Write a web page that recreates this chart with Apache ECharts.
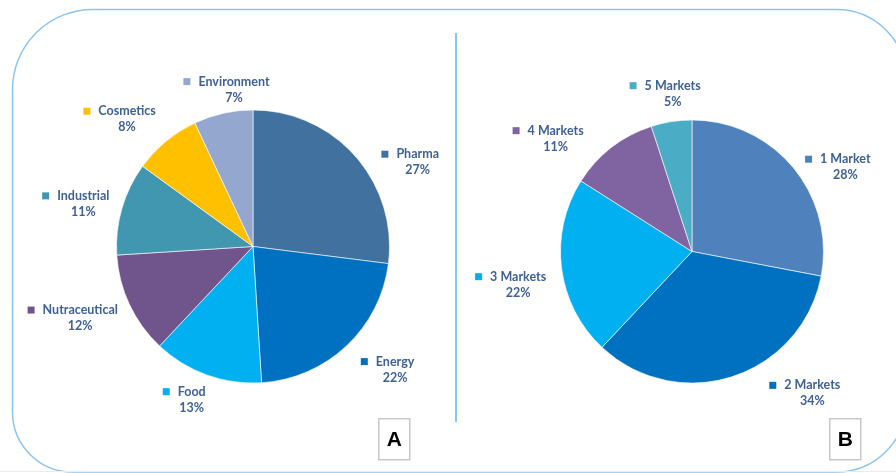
<!DOCTYPE html>
<html>
<head>
<meta charset="utf-8">
<script src="https://cdn.jsdelivr.net/npm/echarts@6/dist/echarts.min.js"></script>
<style>html,body{margin:0;padding:0;background:#fff}#c{width:896px;height:473px}</style>
</head>
<body>
<div id="c"></div>
<script>
// ---- data ----
const catsA = ['Pharma', 'Energy', 'Food', 'Nutraceutical', 'Industrial', 'Cosmetics', 'Environment'];
const valsA = [27, 22, 13, 12, 11, 8, 7];
const catsB = ['1 Market', '2 Markets', '3 Markets', '4 Markets', '5 Markets'];
const valsB = [28, 34, 22, 11, 5];
const panelLabels = ['A', 'B'];

// ---- style ----
const colorsA = ['#41719E', '#0070C0', '#00B0F0', '#70548C', '#4197AF', '#FFC000', '#94A7CE'];
const colorsB = ['#4F81BD', '#0070C0', '#00B0F0', '#8064A2', '#4BACC6'];
// label placement: [angle nudge from slice mid-angle (deg), distance from centre (px)]
const placeA = [[14.3, 185], [-5.9, 188], [2.0, 165], [2.7, 187], [-2.1, 175], [-5.1, 179], [5.7, 158]];
const placeB = [[10.8, 175], [-22.3, 186], [-3.6, 177], [-12.6, 177], [2.0, 159]];
const textColor = '#3F6196';
const FONT = 'Lato';

function makeSeries(cats, vals, colors, center, radius, place) {
  const total = vals.reduce((a, b) => a + b, 0);
  const mids = [];
  let acc = 0;
  vals.forEach(v => { mids.push((acc + v / 2) / total * 360); acc += v; });
  const rich = {
    n: { fontFamily: FONT, fontWeight: 'bold', fontSize: 12.5, color: textColor, lineHeight: 16, padding: [0, 0, 0, 8] },
    p: { fontFamily: FONT, fontWeight: 'bold', fontSize: 12.5, color: textColor, lineHeight: 16, padding: [0, 0, 0, 15] }
  };
  colors.forEach((c, i) => {
    rich['m' + i] = { width: 7, height: 7, backgroundColor: c, verticalAlign: 'middle' };
  });
  return {
    type: 'pie',
    center: center,
    radius: radius,
    startAngle: 90,
    clockwise: true,
    silent: true,
    animation: false,
    itemStyle: { borderColor: '#ffffff', borderWidth: 0.6 },
    data: cats.map((n, i) => ({ name: n, value: vals[i], itemStyle: { color: colors[i] } })),
    label: {
      show: true,
      position: 'outside',
      alignTo: 'none',
      overflow: 'none',
      width: 200,
      formatter: p => '{m' + p.dataIndex + '|}{n|' + p.name + '}\n{p|' + p.value + '%}',
      rich: rich
    },
    labelLine: { show: false },
    labelLayout: function (p) {
      const i = p.dataIndex;
      const a = (mids[i] + place[i][0]) * Math.PI / 180;
      const d = place[i][1];
      return {
        x: center[0] + d * Math.sin(a) - 7.5,
        y: center[1] - d * Math.cos(a),
        align: 'center',
        verticalAlign: 'middle'
      };
    }
  };
}

const chart = echarts.init(document.getElementById('c'), null, { renderer: 'canvas' });
chart.setOption({
  backgroundColor: '#ffffff',
  animation: false,
  series: [
    makeSeries(catsA, valsA, colorsA, [253, 246.5], 136.5, placeA),
    makeSeries(catsB, valsB, colorsB, [692, 251.5], 131.5, placeB)
  ],
  graphic: [
    { type: 'rect', z: -10, silent: true, shape: { x: 12.5, y: 9.5, width: 894, height: 462.5, r: [80, 70, 70, 60] },
      style: { fill: 'none', stroke: '#8CC4F0', lineWidth: 1.5 } },
    { type: 'line', z: -10, silent: true, shape: { x1: 0, y1: 471.5, x2: 896, y2: 471.5 },
      style: { stroke: '#ECECEC', lineWidth: 1 } },
    { type: 'line', z: -5, silent: true, shape: { x1: 456, y1: 33, x2: 456, y2: 422 },
      style: { stroke: '#8EC5F0', lineWidth: 2 } },
    { type: 'group', left: 378, top: 418, children: [
      { type: 'rect', shape: { x: 0, y: 0, width: 31, height: 41 }, style: { fill: '#fff', stroke: '#C8C8C8', lineWidth: 1.5 } },
      { type: 'text', style: { x: 15.5, y: 21, text: panelLabels[0], fill: '#000', font: 'bold 21px "Liberation Sans", Arial', align: 'center', verticalAlign: 'middle' } }
    ] },
    { type: 'group', left: 829, top: 418, children: [
      { type: 'rect', shape: { x: 0, y: 0, width: 31, height: 41 }, style: { fill: '#fff', stroke: '#C8C8C8', lineWidth: 1.5 } },
      { type: 'text', style: { x: 15.5, y: 21, text: panelLabels[1], fill: '#000', font: 'bold 21px "Liberation Sans", Arial', align: 'center', verticalAlign: 'middle' } }
    ] }
  ]
});
</script>
</body>
</html>
